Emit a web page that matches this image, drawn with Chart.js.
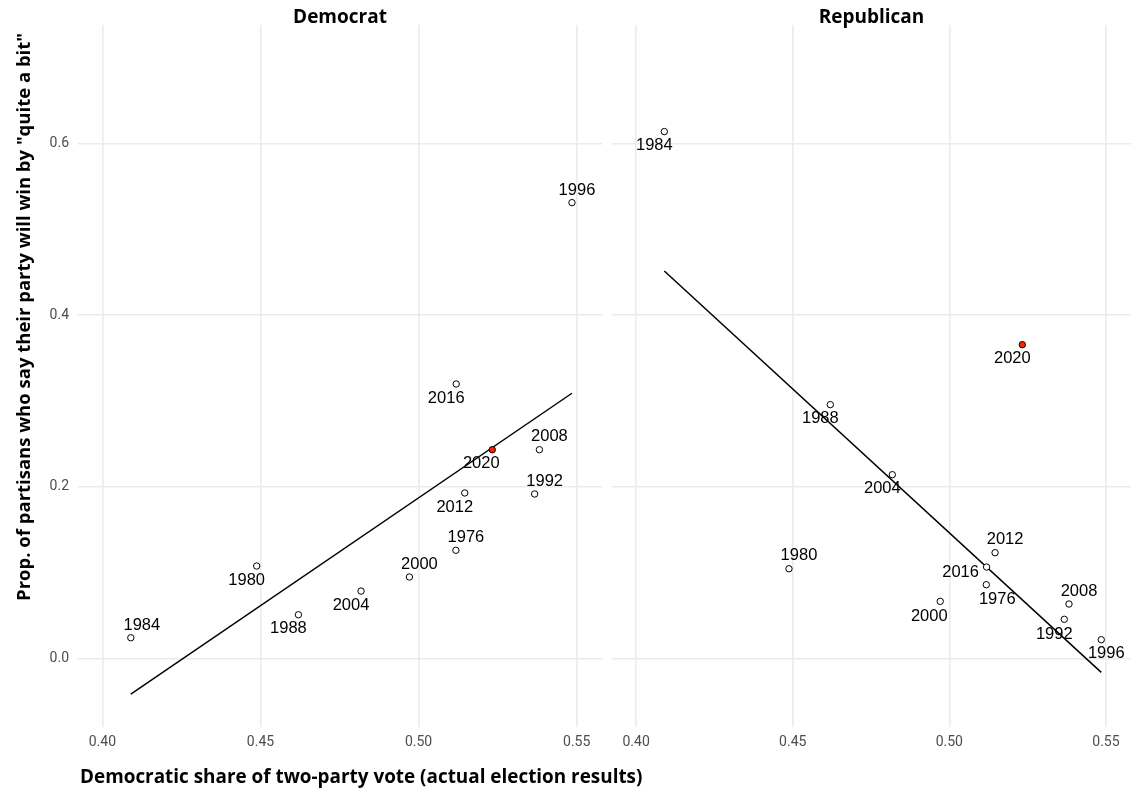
<!DOCTYPE html>
<html><head><meta charset="utf-8">
<script src="https://cdn.jsdelivr.net/npm/chart.js@4.4.0/dist/chart.umd.min.js"></script>
<style>
html,body{margin:0;padding:0;background:#fff;overflow:hidden;width:1132px;height:788px;}
#wrap{position:relative;width:1132px;height:788px;overflow:hidden;}
canvas{position:absolute;top:0;}
#cA{left:0}
#cB{left:606px}
</style></head><body>
<div id="wrap"><canvas id="cA" width="1132" height="788"></canvas><canvas id="cB" width="530" height="788"></canvas></div>
<script>
// ---- data ----
const years      = [1976, 1980, 1984, 1988, 1992, 1996, 2000, 2004, 2008, 2012, 2016, 2020];
const voteShare  = [0.5118, 0.4488, 0.4090, 0.4620, 0.5367, 0.5485, 0.4971, 0.4818, 0.5382, 0.5146, 0.5119, 0.5233];
const demProp    = [0.1259, 0.1076, 0.0240, 0.0508, 0.1915, 0.5310, 0.0948, 0.0784, 0.2431, 0.1927, 0.3197, 0.2431];
const repProp    = [0.0858, 0.1044, 0.6138, 0.2956, 0.0455, 0.0217, 0.0664, 0.2140, 0.0633, 0.1231, 0.1064, 0.3655];
const fitX       = [0.4090, 0.5485];
const demFit     = [-0.0416, 0.3089];
const repFit     = [0.4514, -0.0163];
const highlightYear = 2020;
const xTicks      = [0.40, 0.45, 0.50, 0.55];
const xTickLabels = ['0.40', '0.45', '0.50', '0.55'];
const yTicks      = [0.0, 0.2, 0.4, 0.6];
const yTickLabels = ['0.0', '0.2', '0.4', '0.6'];
const panelTitles = ['Democrat', 'Republican'];
const xTitle = 'Democratic share of two-party vote (actual election results)';
const yTitle = 'Prop. of partisans who say their party will win by "quite a bit"';

// ---- label placement (pixel nudges, layout only) ----
const demNudge = {1976:[10,-13],1980:[-10,14],1984:[11,-12],1988:[-10,14],1992:[10,-13],1996:[5,-12],
                  2000:[10,-13],2004:[-10,14],2008:[10,-13],2012:[-10,14],2016:[-10,14],2020:[-11,14]};
const repNudge = {1976:[11,15],1980:[10,-13],1984:[-10,14],1988:[-10,14],1992:[-10,15],1996:[5,14],
                  2000:[-11,15],2004:[-10,14],2008:[10,-13],2012:[10,-13],2016:[-26,5],2020:[-10,14]};

const GRID = '#ebebeb';
const TICKC = '#4d4d4d';
const TITLE_FONT = '"Open Sans", "DejaVu Sans", sans-serif';
const TICK_FONT = 'Roboto, "DejaVu Sans", sans-serif';
const LABEL_FONT = '"Liberation Sans", Arial, sans-serif';

function textPlugin(props, nudge, title, isLeft) {
  return {
    id: 'texts',
    afterDatasetsDraw(chart) {
      const ctx = chart.ctx, xs = chart.scales.x, ys = chart.scales.y, ca = chart.chartArea;
      ctx.save();
      ctx.fillStyle = '#000';
      ctx.font = '16.5px ' + LABEL_FONT;
      ctx.textAlign = 'center';
      ctx.textBaseline = 'middle';
      years.forEach((yr, i) => {
        const n = nudge[yr] || [0, 0];
        ctx.fillText(String(yr), xs.getPixelForValue(voteShare[i]) + n[0], ys.getPixelForValue(props[i]) + n[1]);
      });
      // strip title
      ctx.font = 'bold 19px ' + TITLE_FONT;
      ctx.textBaseline = 'alphabetic';
      ctx.fillText(title, (ca.left + ca.right) / 2, 23);
      if (isLeft) {
        ctx.font = 'bold 18.9px ' + TITLE_FONT;
        ctx.textAlign = 'left';
        ctx.fillText(xTitle, 80, 783);
        ctx.save();
        ctx.translate(30, 33);
        ctx.rotate(-Math.PI / 2);
        ctx.textAlign = 'right';
        ctx.font = 'bold 18.5px ' + TITLE_FONT;
        ctx.fillText(yTitle, 0, 0);
        ctx.restore();
      }
      ctx.restore();
    }
  };
}

function makePanel(canvasId, props, fit, nudge, title, isLeft) {
  const pointData = years.map((yr, i) => ({ x: voteShare[i], y: props[i] }));
  const lineData = fitX.map((x, i) => ({ x: x, y: fit[i] }));
  return new Chart(document.getElementById(canvasId), {
    type: 'scatter',
    data: {
      datasets: [
        {
          type: 'scatter',
          data: pointData,
          pointRadius: 3.2,
          pointBorderWidth: 1,
          pointBorderColor: '#000',
          pointBackgroundColor: ctx => years[ctx.dataIndex] === highlightYear ? '#ff2200' : '#ffffff',
          order: 0
        },
        {
          type: 'line',
          data: lineData,
          borderColor: '#000',
          borderWidth: 1.5,
          pointRadius: 0,
          fill: false,
          order: 1
        }
      ]
    },
    options: {
      responsive: false,
      animation: false,
      events: [],
      layout: { padding: isLeft ? { top: 25, left: 0, right: 530, bottom: 0 } : { top: 25, left: 6, right: 1, bottom: 0 } },
      plugins: { legend: { display: false }, tooltip: { enabled: false }, title: { display: false } },
      scales: {
        x: {
          type: 'linear', min: 0.3923, max: 0.558,
          afterBuildTicks: s => { s.ticks = xTicks.map(v => ({ value: v })); },
          afterFit: s => { s.height = 61; },
          ticks: { callback: (v, i) => xTickLabels[i], color: TICKC, font: { family: TICK_FONT, size: 14 }, padding: 7, maxRotation: 0, autoSkip: false },
          grid: { color: GRID, lineWidth: 1.6, drawTicks: false },
          border: { display: false }
        },
        y: {
          type: 'linear', min: -0.080, max: 0.738,
          afterBuildTicks: s => { s.ticks = yTicks.map(v => ({ value: v })); },
          afterFit: s => { s.width = isLeft ? 78 : 0; },
          ticks: { display: isLeft, callback: (v, i) => yTickLabels[i], color: TICKC, font: { family: TICK_FONT, size: 14 }, padding: 9, autoSkip: false },
          grid: { color: GRID, lineWidth: 1.6, drawTicks: false },
          border: { display: false }
        }
      }
    },
    plugins: [textPlugin(props, nudge, title, isLeft)]
  });
}

makePanel('cA', demProp, demFit, demNudge, panelTitles[0], true);
makePanel('cB', repProp, repFit, repNudge, panelTitles[1], false);
</script>
</body></html>
